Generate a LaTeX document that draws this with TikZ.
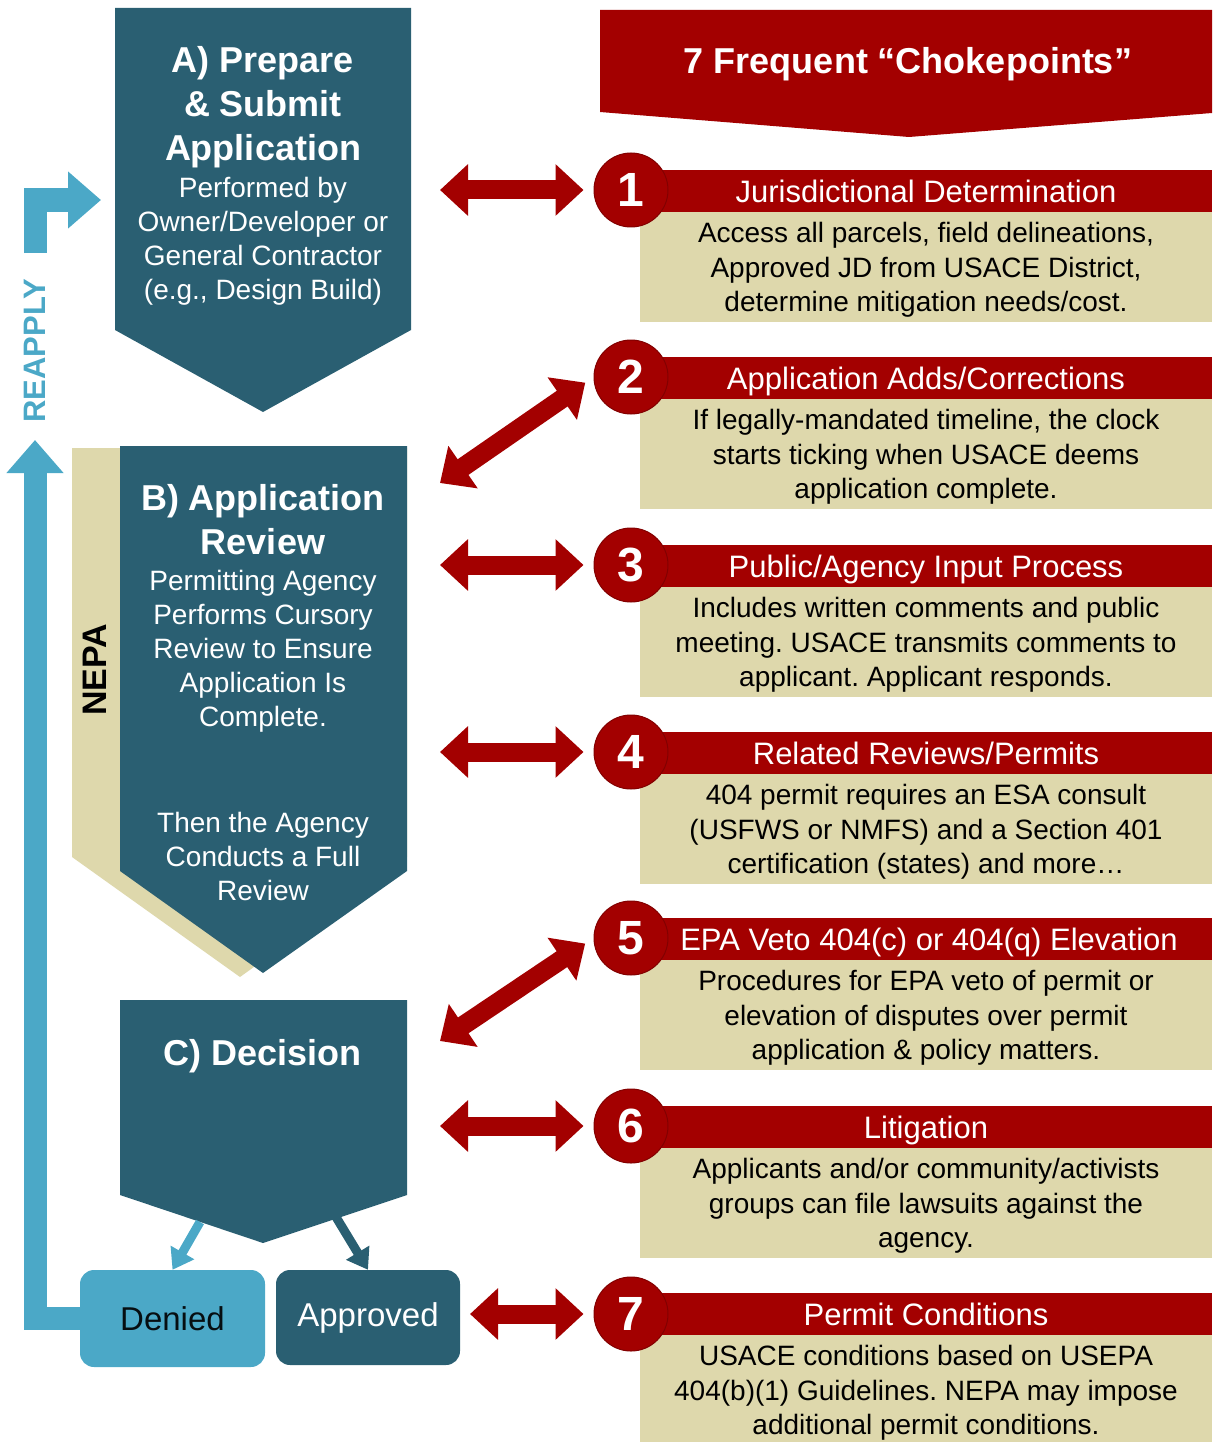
\documentclass[tikz,border=0pt]{standalone}
\usepackage{fontspec}
\setmainfont{Liberation Sans}
\usetikzlibrary{arrows.meta}
\definecolor{deepteal}{RGB}{42,95,114}
\definecolor{skyblue}{RGB}{75,168,199}
\definecolor{chokered}{RGB}{163,0,0}
\definecolor{sand}{RGB}{222,216,172}
\frenchspacing
\begin{document}
\begin{tikzpicture}[x=1pt,y=-1pt,line join=round,line cap=round,
	boxtitle/.style={text=white,align=center,font=\bfseries\fontsize{36}{44}\selectfont},
	boxtext/.style={text=white,align=center,font=\fontsize{28}{34}\selectfont},
	numcirc/.style={circle,fill=chokered,draw=chokered!80!black,line width=1pt,minimum size=74pt,inner sep=0pt,text=white,font=\bfseries\fontsize{48}{48}\selectfont},
	bandtext/.style={text=white,anchor=base,font=\fontsize{31}{31}\selectfont},
	bodytext/.style={align=center,font=\fontsize{28}{34.5}\selectfont},
	outcome/.style={rounded corners=14pt,minimum width=185pt,minimum height=97pt,inner sep=0pt,font=\fontsize{33}{33}\selectfont},
	chokearrow/.style={draw=chokered,line width=19pt,line cap=butt,{Triangle[width=50pt,length=28pt]}-{Triangle[width=50pt,length=28pt]},shorten >=10pt},
	reapply/.style={draw=skyblue,line width=23pt,line join=miter,line cap=butt,-{Triangle[width=55pt,length=33pt]}},
	split/.style={line width=9pt,line cap=butt,-{Triangle[width=26pt,length=20pt]}}]
	\useasboundingbox (0,0) rectangle (1212,1442);
	%NEPA
	\path (72,448) coordinate (N1) (407,448) coordinate (N2) (407,857) coordinate (N3)
	(240,977) coordinate (N4) (72,857) coordinate (N5);
	\fill[sand] (N1)--(N2)--(N3)--(N4)--(N5)--cycle;
	\node[rotate=90,font=\bfseries\fontsize{34}{34}\selectfont] (nepa) at (95,670) {NEPA};
	%A) Prepare & Submit
	\path (115,8) coordinate (A1) (411,8) coordinate (A2) (411,330) coordinate (A3)
	(263,412) coordinate (A4) (115,330) coordinate (A5);
	\fill[deepteal] (A1)--(A2)--(A3)--(A4)--(A5)--cycle;
	\node[boxtitle] (Atitle) at (263,107) {A) Prepare\\ \& Submit\\ Application};
	\node[boxtext] (Atext) at (263,241) {Performed by\\ Owner/Developer or\\ General Contractor\\ (e.g., Design Build)};
	%B) Application Review
	\path (120,446) coordinate (B1) (407,446) coordinate (B2) (407,871) coordinate (B3)
	(263,973) coordinate (B4) (120,871) coordinate (B5);
	\fill[deepteal] (B1)--(B2)--(B3)--(B4)--(B5)--cycle;
	\node[boxtitle] (Btitle) at (263,520) {B) Application\\ Review};
	\node[boxtext] (Btext) at (263,651) {Permitting Agency\\ Performs Cursory\\ Review to Ensure\\ Application Is\\ Complete.};
	\node[boxtext] (Bmore) at (263,856) {Then the Agency\\ Conducts a Full\\ Review};
	%C) Decision
	\path (120,1000) coordinate (C1) (407,1000) coordinate (C2) (407,1195) coordinate (C3)
	(263,1243) coordinate (C4) (120,1195) coordinate (C5);
	\fill[deepteal] (C1)--(C2)--(C3)--(C4)--(C5)--cycle;
	\node[boxtitle] (Ctitle) at (263,1056) {C) Decision};
	\node[outcome,fill=skyblue,text=black!85!deepteal] (den) at (172.5,1318.5) {Denied};
	\node[outcome,fill=deepteal,text=white,minimum width=184pt,minimum height=95pt] (app) at (368,1317.5) {Approved};
	\coordinate (d1) at (200,1222);
	\coordinate (d2) at (336,1217);
	\draw[split,skyblue] (d1)--(den.north);
	\draw[split,deepteal] (d2)--(app.north);
	%Reapply
	\coordinate (r1) at (35,440);
	\coordinate (r2) at (35,253);
	\coordinate (r3) at (101,200);
	\draw[reapply] (den.west)-|(r1);
	\draw[reapply] (r2)|-(r3);
	\node[rotate=90,text=skyblue,font=\bfseries\fontsize{31}{31}\selectfont] (reap) at (35,351) {REAPPLY};
	%7 Frequent Chokepoints
	\path (600,10) coordinate (H1) (1212,10) coordinate (H2) (1212,113) coordinate (H3)
	(909,137) coordinate (H4) (600,112) coordinate (H5);
	\fill[chokered] (H1)--(H2)--(H3)--(H4)--(H5)--cycle;
	\node[text=white,font=\bfseries\fontsize{36}{36}\selectfont] (head) at (908,64) {7 Frequent “Chokepoints”};
	%Chokepoint 1
	\fill[sand] (640,211) rectangle (1212,322);
	\fill[chokered] (631,170) rectangle (1212,212);
	\node[numcirc] (n1) at (631,190) {1};
	\node[bandtext] (t1) at (926,202) {Jurisdictional Determination};
	\node[bodytext] (b1) at (926,270) {Access all parcels, field delineations,\\ Approved JD from USACE District,\\ determine mitigation needs/cost.};
	%Chokepoint 2
	\fill[sand] (640,398) rectangle (1212,509);
	\fill[chokered] (631,357) rectangle (1212,399);
	\node[numcirc] (n2) at (631,377) {2};
	\node[bandtext] (t2) at (926,389) {Application Adds/Corrections};
	\node[bodytext] (b2) at (926,457) {If legally-mandated timeline, the clock\\ starts ticking when USACE deems\\ application complete.};
	%Chokepoint 3
	\fill[sand] (640,586) rectangle (1212,697);
	\fill[chokered] (631,545) rectangle (1212,587);
	\node[numcirc] (n3) at (631,565) {3};
	\node[bandtext] (t3) at (926,577) {Public/Agency Input Process};
	\node[bodytext] (b3) at (926,645) {Includes written comments and public\\ meeting. USACE transmits comments to\\ applicant. Applicant responds.};
	%Chokepoint 4
	\fill[sand] (640,773) rectangle (1212,884);
	\fill[chokered] (631,732) rectangle (1212,774);
	\node[numcirc] (n4) at (631,752) {4};
	\node[bandtext] (t4) at (926,764) {Related Reviews/Permits};
	\node[bodytext] (b4) at (926,832) {404 permit requires an ESA consult\\ (USFWS or NMFS) and a Section 401\\ certification (states) and more…};
	%Chokepoint 5
	\fill[sand] (640,959) rectangle (1212,1070);
	\fill[chokered] (631,918) rectangle (1212,960);
	\node[numcirc] (n5) at (631,938) {5};
	\node[bandtext] (t5) at (929,950) {EPA Veto 404(c) or 404(q) Elevation};
	\node[bodytext] (b5) at (926,1018) {Procedures for EPA veto of permit or\\ elevation of disputes over permit\\ application \& policy matters.};
	%Chokepoint 6
	\fill[sand] (640,1147) rectangle (1212,1258);
	\fill[chokered] (631,1106) rectangle (1212,1148);
	\node[numcirc] (n6) at (631,1126) {6};
	\node[bandtext] (t6) at (926,1138) {Litigation};
	\node[bodytext] (b6) at (926,1206) {Applicants and/or community/activists\\ groups can file lawsuits against the\\ agency.};
	%Chokepoint 7
	\fill[sand] (640,1334) rectangle (1212,1445);
	\fill[chokered] (631,1293) rectangle (1212,1335);
	\node[numcirc] (n7) at (631,1314) {7};
	\node[bandtext] (t7) at (926,1325) {Permit Conditions};
	\node[bodytext] (b7) at (926,1393) {USACE conditions based on USEPA\\ 404(b)(1) Guidelines. NEPA may impose\\ additional permit conditions.};
	%Arrows
	\coordinate (p1) at (440,190);
	\coordinate (p2) at (440,483);
	\coordinate (p3) at (440,565);
	\coordinate (p4) at (440,752);
	\coordinate (p5) at (440,1041);
	\coordinate (p6) at (440,1126);
	\coordinate (p7) at (470,1314);
	\draw[chokearrow] (p1)--(n1.west);
	\draw[chokearrow] (p2)--(n2.west);
	\draw[chokearrow] (p3)--(n3.west);
	\draw[chokearrow] (p4)--(n4.west);
	\draw[chokearrow] (p5)--(n5.west);
	\draw[chokearrow] (p6)--(n6.west);
	\draw[chokearrow] (p7)--(n7.west);
\end{tikzpicture}
\end{document}
